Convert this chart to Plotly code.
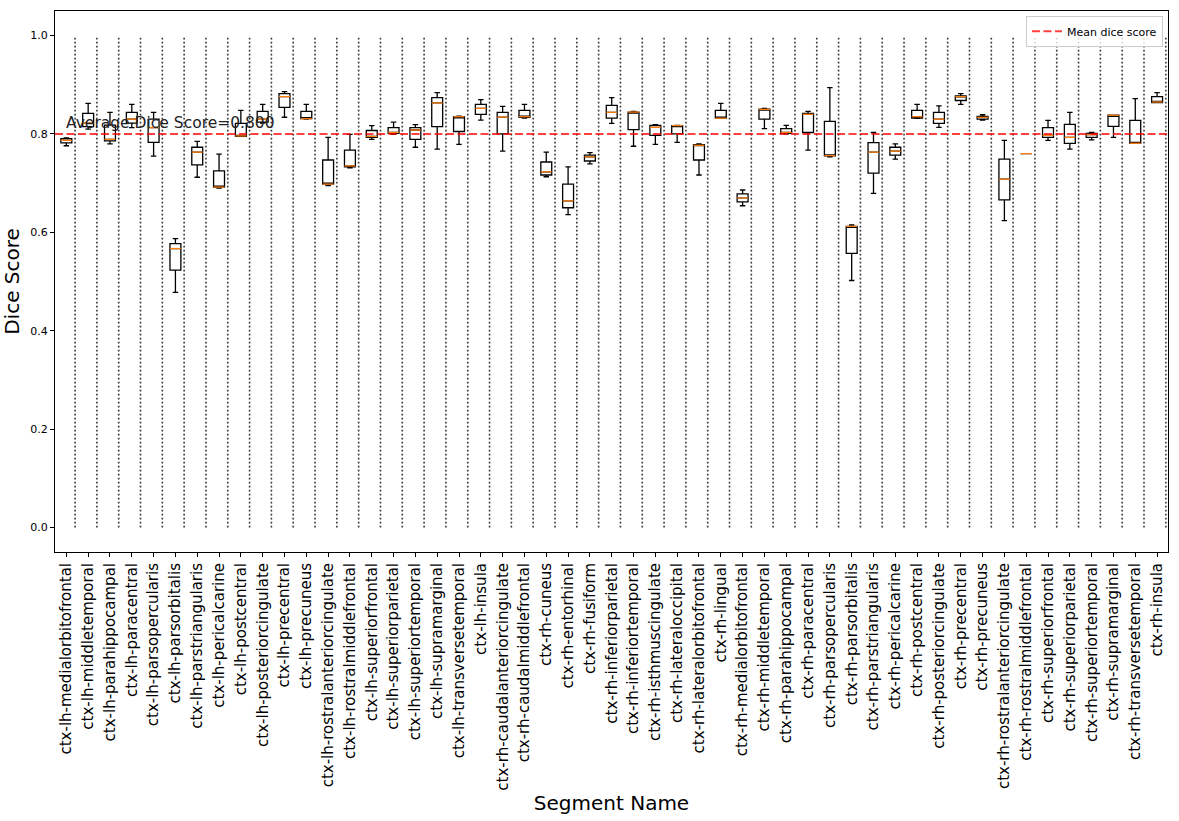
import plotly.graph_objects as go

segments = [
    "ctx-lh-medialorbitofrontal", "ctx-lh-middletemporal", "ctx-lh-parahippocampal",
    "ctx-lh-paracentral", "ctx-lh-parsopercularis", "ctx-lh-parsorbitalis",
    "ctx-lh-parstriangularis", "ctx-lh-pericalcarine", "ctx-lh-postcentral",
    "ctx-lh-posteriorcingulate", "ctx-lh-precentral", "ctx-lh-precuneus",
    "ctx-lh-rostralanteriorcingulate", "ctx-lh-rostralmiddlefrontal", "ctx-lh-superiorfrontal",
    "ctx-lh-superiorparietal", "ctx-lh-superiortemporal", "ctx-lh-supramarginal",
    "ctx-lh-transversetemporal", "ctx-lh-insula", "ctx-rh-caudalanteriorcingulate",
    "ctx-rh-caudalmiddlefrontal", "ctx-rh-cuneus", "ctx-rh-entorhinal",
    "ctx-rh-fusiform", "ctx-rh-inferiorparietal", "ctx-rh-inferiortemporal",
    "ctx-rh-isthmuscingulate", "ctx-rh-lateraloccipital", "ctx-rh-lateralorbitofrontal",
    "ctx-rh-lingual", "ctx-rh-medialorbitofrontal", "ctx-rh-middletemporal",
    "ctx-rh-parahippocampal", "ctx-rh-paracentral", "ctx-rh-parsopercularis",
    "ctx-rh-parsorbitalis", "ctx-rh-parstriangularis", "ctx-rh-pericalcarine",
    "ctx-rh-postcentral", "ctx-rh-posteriorcingulate", "ctx-rh-precentral",
    "ctx-rh-precuneus", "ctx-rh-rostralanteriorcingulate", "ctx-rh-rostralmiddlefrontal",
    "ctx-rh-superiorfrontal", "ctx-rh-superiorparietal", "ctx-rh-superiortemporal",
    "ctx-rh-supramarginal", "ctx-rh-transversetemporal", "ctx-rh-insula",
]

lower = [0.776, 0.810, 0.780, 0.813, 0.755, 0.478, 0.712, 0.690, 0.795, 0.822,
         0.834, 0.830, 0.695, 0.731, 0.789, 0.799, 0.773, 0.769, 0.779, 0.828,
         0.765, 0.832, 0.713, 0.636, 0.739, 0.8215, 0.775, 0.779, 0.783, 0.7165,
         0.832, 0.654, 0.811, 0.800, 0.767, 0.7535, 0.502, 0.679, 0.749, 0.8317,
         0.8135, 0.860, 0.828, 0.6236, 0.760, 0.787, 0.769, 0.788, 0.793, 0.781,
         0.864]
q1 = [0.782, 0.815, 0.786, 0.822, 0.783, 0.523, 0.737, 0.692, 0.795, 0.824,
      0.854, 0.831, 0.698, 0.733, 0.793, 0.801, 0.789, 0.815, 0.805, 0.840,
      0.800, 0.834, 0.7165, 0.650, 0.745, 0.832, 0.809, 0.797, 0.800, 0.747,
      0.832, 0.662, 0.830, 0.801, 0.803, 0.7556, 0.557, 0.7205, 0.757, 0.832,
      0.8215, 0.868, 0.830, 0.666, 0.760, 0.793, 0.781, 0.793, 0.8155, 0.781,
      0.864]
median = [0.787, 0.822, 0.789, 0.830, 0.813, 0.567, 0.763, 0.692, 0.796, 0.830,
          0.876, 0.831, 0.698, 0.735, 0.795, 0.803, 0.808, 0.863, 0.835, 0.852,
          0.834, 0.835, 0.723, 0.664, 0.7535, 0.844, 0.8445, 0.8135, 0.817, 0.777,
          0.832, 0.670, 0.850, 0.803, 0.840, 0.756, 0.612, 0.763, 0.765, 0.835,
          0.830, 0.876, 0.8337, 0.708, 0.760, 0.797, 0.793, 0.7987, 0.838, 0.781,
          0.865]
q3 = [0.7906, 0.842, 0.818, 0.844, 0.830, 0.577, 0.773, 0.725, 0.8215, 0.846,
      0.882, 0.846, 0.747, 0.767, 0.807, 0.813, 0.813, 0.874, 0.835, 0.860,
      0.844, 0.848, 0.743, 0.698, 0.757, 0.858, 0.8445, 0.8175, 0.817, 0.7785,
      0.848, 0.678, 0.8505, 0.811, 0.842, 0.8256, 0.612, 0.7825, 0.773, 0.848,
      0.844, 0.8774, 0.8357, 0.749, 0.760, 0.813, 0.8195, 0.801, 0.838, 0.8276,
      0.876]
upper = [0.792, 0.862, 0.844, 0.860, 0.844, 0.587, 0.785, 0.759, 0.848, 0.860,
         0.886, 0.860, 0.793, 0.799, 0.817, 0.824, 0.819, 0.884, 0.836, 0.870,
         0.856, 0.860, 0.763, 0.733, 0.762, 0.874, 0.846, 0.819, 0.8175, 0.780,
         0.862, 0.686, 0.852, 0.8175, 0.846, 0.894, 0.615, 0.803, 0.780, 0.860,
         0.857, 0.882, 0.839, 0.787, 0.760, 0.8276, 0.844, 0.803, 0.838, 0.872,
         0.884]

mean_score = 0.800
y_ticks = [0.0, 0.2, 0.4, 0.6, 0.8, 1.0]

positions = list(range(len(segments)))
box_width = 0.5

fig = go.Figure()

# dotted separators between segments
sep_x, sep_y = [], []
for p in positions:
    sep_x += [p + 0.4, p + 0.4, None]
    sep_y += [0.0, 1.0, None]
fig.add_trace(go.Scatter(
    x=sep_x, y=sep_y, mode='lines',
    line=dict(color='#333333', width=1.6, dash='1.6px,2.4px'),
    showlegend=False, hoverinfo='skip'))

fig.add_trace(go.Box(
    x=positions, q1=q1, median=median, q3=q3,
    lowerfence=lower, upperfence=upper,
    width=box_width, whiskerwidth=0.5,
    line=dict(color='black', width=1.3),
    fillcolor='rgba(0,0,0,0)',
    boxpoints=False, showlegend=False, hoverinfo='skip'))

# orange median lines on top
med_x, med_y = [], []
for p, m in zip(positions, median):
    med_x += [p - box_width / 2, p + box_width / 2, None]
    med_y += [m, m, None]
fig.add_trace(go.Scatter(
    x=med_x, y=med_y, mode='lines',
    line=dict(color='#ff7f0e', width=1.3),
    showlegend=False, hoverinfo='skip'))

fig.add_shape(type='line', xref='paper', x0=0, x1=1,
              y0=mean_score, y1=mean_score,
              line=dict(color='rgba(255,0,0,0.75)', width=2, dash='8px,3.5px'),
              showlegend=True, name='Mean dice score')

fig.add_annotation(x=0, y=mean_score, xref='x', yref='y',
                   text='Average Dice Score=%.3f' % mean_score,
                   showarrow=False, xanchor='left', yanchor='bottom',
                   xshift=-2, font=dict(size=15.5, color='#222222'))

fig.update_layout(
    width=1179, height=821,
    margin=dict(l=53, r=10, t=10, b=267),
    paper_bgcolor='white', plot_bgcolor='white',
    font=dict(family='DejaVu Sans', color='black'),
    legend=dict(x=0.9955, y=0.991, xanchor='right', yanchor='top',
                bordercolor='#cccccc', borderwidth=1, itemwidth=30,
                bgcolor='rgba(255,255,255,0.8)', font=dict(size=11)),
    xaxis=dict(
        range=[-0.52, 50.5], tickmode='array', tickvals=positions,
        ticktext=segments, tickangle=-90, tickfont=dict(size=15),
        ticks='outside', ticklen=4, tickcolor='black',
        showline=True, mirror=True, linecolor='black', linewidth=1,
        showgrid=False, zeroline=False,
        title=dict(text='Segment Name', font=dict(size=20), standoff=6)),
    yaxis=dict(
        range=[-0.05, 1.05], tickmode='array', tickvals=y_ticks,
        tickformat='.1f', tickfont=dict(size=11),
        ticks='outside', ticklen=4, tickcolor='black',
        showline=True, mirror=True, linecolor='black', linewidth=1,
        showgrid=False, zeroline=False,
        title=dict(text='Dice Score', font=dict(size=20), standoff=6)),
)

fig.write_html("out.html", config={'displayModeBar': False},
               post_script="document.body.style.margin = '0';")
